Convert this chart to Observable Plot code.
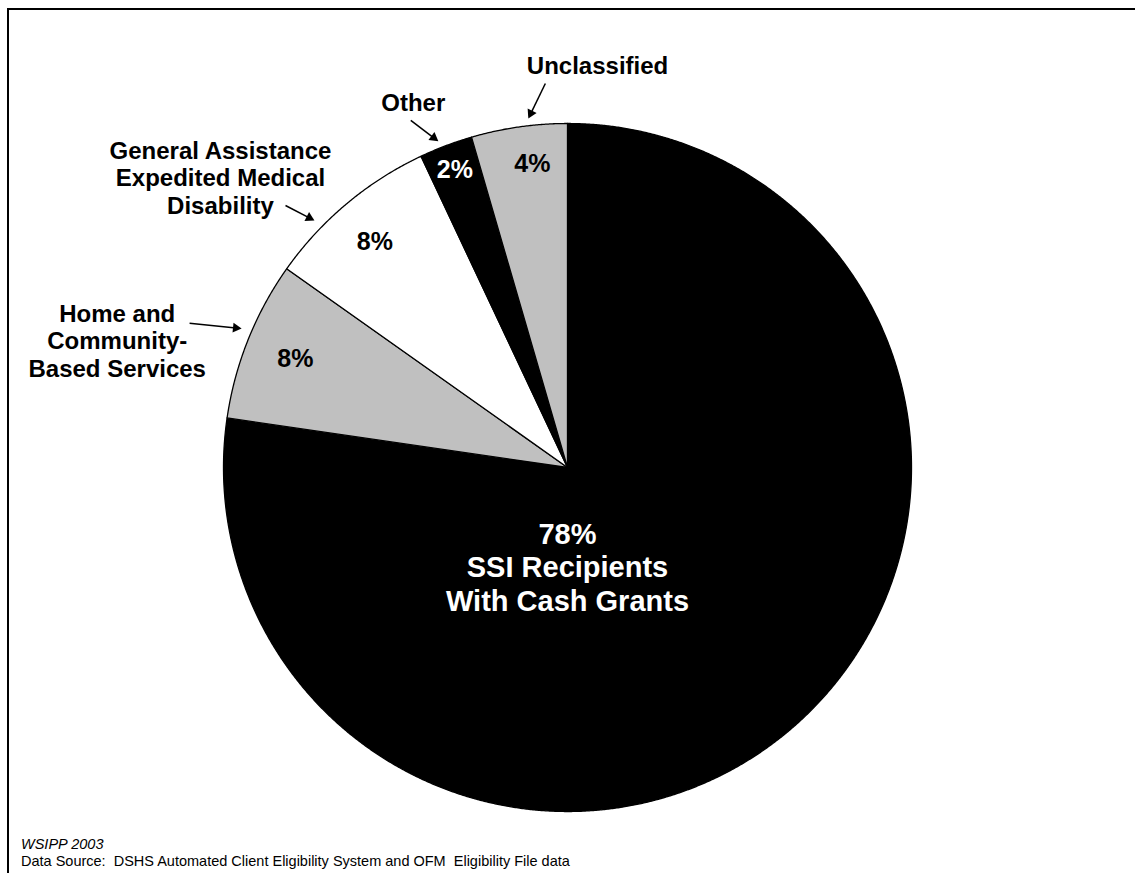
<!DOCTYPE html>
<html>
<head>
<meta charset="utf-8">
<script src="https://cdn.jsdelivr.net/npm/d3@7"></script>
<script src="https://cdn.jsdelivr.net/npm/@observablehq/plot@0.6"></script>
<style>
  html, body { margin: 0; padding: 0; background: #fff; overflow: hidden; }
  #wrap { position: relative; width: 1135px; height: 873px; overflow: hidden; }
  #frame { position: absolute; left: 7px; top: 8px; width: 1300px; height: 1000px;
           border-left: 2px solid #000; border-top: 2px solid #000; }
  #chart { position: absolute; left: 0; top: 0; }
  .cap { position: absolute; left: 21px; font-family: "Liberation Sans", Arial, sans-serif;
         font-size: 14.5px; line-height: 16px; white-space: pre; color: #000; }
</style>
</head>
<body>
<div id="wrap">
  <div id="frame"></div>
  <div id="chart"></div>
  <div class="cap" id="cap1" style="top:836px; font-style:italic;"></div>
  <div class="cap" id="cap2" style="top:853px;"></div>
</div>
<script>
// ---- data ----
const categories = [
  "SSI Recipients\nWith Cash Grants",
  "Home and\nCommunity-\nBased Services",
  "General Assistance\nExpedited Medical\nDisability",
  "Other",
  "Unclassified"
];
const shares = [77.3, 7.5, 8.2, 2.5, 4.5];
const shareLabels = ["78%", "8%", "8%", "2%", "4%"];
const captionSource = "WSIPP 2003";
const captionData = "Data Source:  DSHS Automated Client Eligibility System and OFM  Eligibility File data";

// ---- styles / layout ----
const sliceFills = ["#000000", "#c0c0c0", "#ffffff", "#000000", "#c0c0c0"];
const innerTextFills = ["#ffffff", "#000000", "#000000", "#ffffff", "#000000"];
const W = 1135, H = 873, CX = 567, CY = 467, R = 344;
// inner label placement (degrees clockwise from 12 o'clock, radius as fraction of pie radius); null angle = slice middle
const innerPlace = [{a: 180, r: 0.288}, {a: null, r: 0.852}, {a: 319.5, r: 0.862}, {a: null, r: 0.926}, {a: 353.4, r: 0.889}];
// outer category labels and arrows (SSI label sits inside with its percentage)
const outerPlace = [null, {a: 285.75, r: 1.36}, {a: 309.9, r: 1.315}, {a: 337.1, r: 1.152}, {a: 4.27, r: 1.172}];
const arrowPlace = [null,
  {a1: 290.9, r1: 1.176, a2: 293.1, r2: 1.03},
  {a1: 312.9, r1: 1.119, a2: 314.3, r2: 1.028},
  {a1: 335.7, r1: 1.107, a2: 338.4, r2: 1.02},
  {a1: 356.7, r1: 1.118, a2: 353.6, r2: 1.021}];
const headR = 3.7;              // arrowhead size (px radius of triangle symbol)
const headBack = headR * 1.55;  // centroid-to-tip distance in px

document.getElementById("cap1").textContent = captionSource;
document.getElementById("cap2").textContent = captionData;

const rad = (deg) => deg * Math.PI / 180;
const px = (ang, r) => r * Math.sin(ang);
const py = (ang, r) => r * Math.cos(ang);

const arcs = d3.pie().sort(null).value(d => d)(shares);

// slice outlines
const slicePts = [];
arcs.forEach((a, i) => {
  const n = Math.max(4, Math.ceil((a.endAngle - a.startAngle) / 0.004));
  slicePts.push({id: i, x: 0, y: 0, fill: sliceFills[i]});
  for (let k = 0; k <= n; k++) {
    const t = a.startAngle + (a.endAngle - a.startAngle) * k / n;
    slicePts.push({id: i, x: px(t, 1), y: py(t, 1), fill: sliceFills[i]});
  }
  slicePts.push({id: i, x: 0, y: 0, fill: sliceFills[i]});
});

// inner labels
const inner = arcs.map((a, i) => {
  const ang = innerPlace[i].a == null ? (a.startAngle + a.endAngle) / 2 : rad(innerPlace[i].a);
  return {x: px(ang, innerPlace[i].r), y: py(ang, innerPlace[i].r),
          text: i === 0 ? shareLabels[i] + "\n" + categories[i] : shareLabels[i],
          fill: innerTextFills[i], big: i === 0};
});

const outer = [];
const arrows = [];
categories.forEach((c, i) => {
  if (outerPlace[i]) {
    const ang = rad(outerPlace[i].a);
    outer.push({x: px(ang, outerPlace[i].r), y: py(ang, outerPlace[i].r), text: c});
  }
  if (arrowPlace[i]) {
    const p = arrowPlace[i];
    const x1 = px(rad(p.a1), p.r1), y1 = py(rad(p.a1), p.r1);
    const x2 = px(rad(p.a2), p.r2), y2 = py(rad(p.a2), p.r2);
    const len = Math.hypot(x2 - x1, y2 - y1);
    const ux = (x2 - x1) / len, uy = (y2 - y1) / len;
    const back = headBack / R;
    arrows.push({x1, y1, cx: x2 - ux * back, cy: y2 - uy * back,
                 rot: Math.atan2(ux, uy) * 180 / Math.PI});
  }
});

const font = "'Liberation Sans', Arial, Helvetica, sans-serif";

const chart = Plot.plot({
  width: W,
  height: H,
  margin: 0,
  style: {background: "transparent", fontFamily: font},
  x: {domain: [-CX / R, (W - CX) / R], axis: null},
  y: {domain: [-(H - CY) / R, CY / R], axis: null},
  color: {type: "identity"},
  marks: [
    Plot.line(slicePts, {x: "x", y: "y", z: "id", fill: "fill", stroke: "#000", strokeWidth: 1.3, strokeLinejoin: "round"}),
    Plot.text(inner.filter(d => !d.big), {x: "x", y: "y", text: "text", fill: "fill", fontSize: 25, fontWeight: "bold", fontFamily: font}),
    Plot.text(inner.filter(d => d.big), {x: "x", y: "y", text: "text", fill: "fill", fontSize: 29, fontWeight: "bold", lineHeight: 1.17, fontFamily: font}),
    Plot.text(outer, {x: "x", y: "y", text: "text", fill: "#000", fontSize: 24, fontWeight: "bold", lineHeight: 1.15, fontFamily: font}),
    Plot.link(arrows, {x1: "x1", y1: "y1", x2: "cx", y2: "cy", stroke: "#000", strokeWidth: 1.5}),
    Plot.dot(arrows, {x: "cx", y: "cy", symbol: "triangle", r: headR, fill: "#000", stroke: "none", rotate: "rot"})
  ]
});
document.getElementById("chart").appendChild(chart);
</script>
</body>
</html>
